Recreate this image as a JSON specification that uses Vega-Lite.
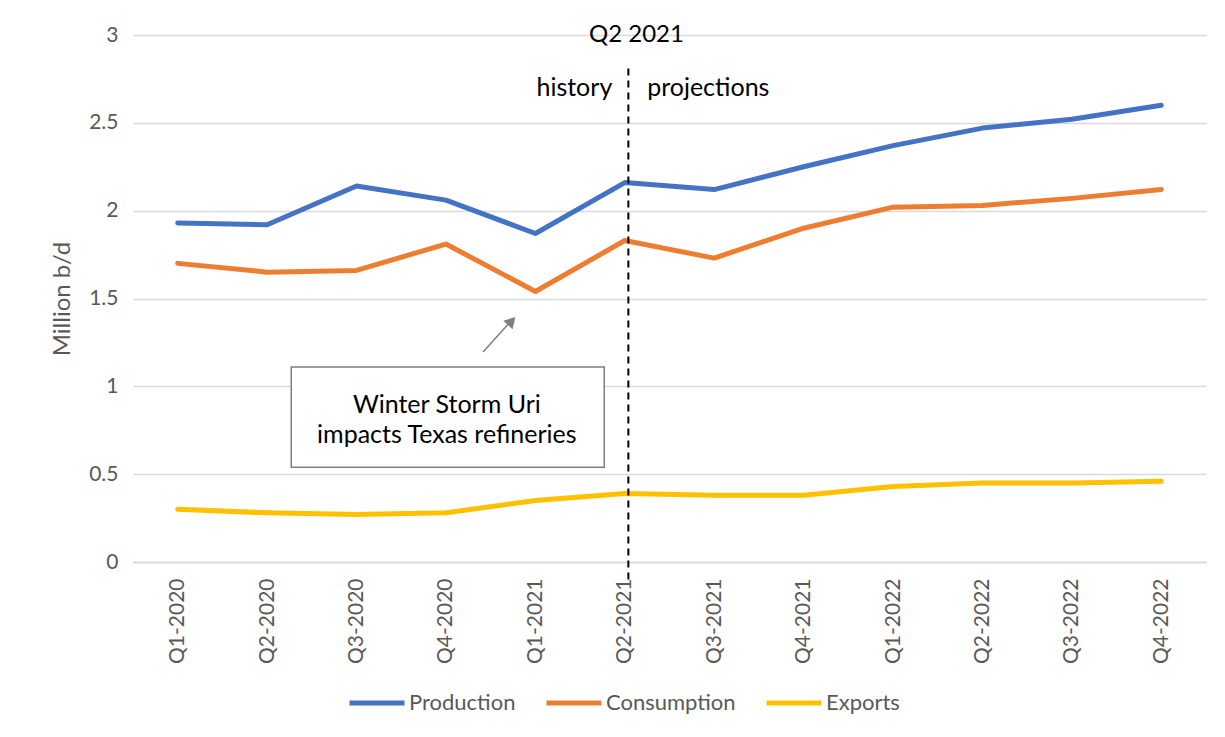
{
  "$schema": "https://vega.github.io/schema/vega-lite/v6.json",
  "width": 1073,
  "height": 527,
  "autosize": "none",
  "padding": {"left": 133, "top": 35, "right": 19, "bottom": 175},
  "background": "white",
  "config": {
    "font": "Lato",
    "view": {"stroke": null},
    "axis": {"labelFont": "Lato", "titleFont": "Lato", "labelColor": "#595959", "titleColor": "#595959", "titleFontWeight": "normal"},
    "legend": {"labelFont": "Lato"}
  },
  "datasets": {
    "series": [
      {"q": "Q1-2020", "series": "Production", "v": 1.93},
      {"q": "Q2-2020", "series": "Production", "v": 1.92},
      {"q": "Q3-2020", "series": "Production", "v": 2.14},
      {"q": "Q4-2020", "series": "Production", "v": 2.06},
      {"q": "Q1-2021", "series": "Production", "v": 1.87},
      {"q": "Q2-2021", "series": "Production", "v": 2.16},
      {"q": "Q3-2021", "series": "Production", "v": 2.12},
      {"q": "Q4-2021", "series": "Production", "v": 2.25},
      {"q": "Q1-2022", "series": "Production", "v": 2.37},
      {"q": "Q2-2022", "series": "Production", "v": 2.47},
      {"q": "Q3-2022", "series": "Production", "v": 2.52},
      {"q": "Q4-2022", "series": "Production", "v": 2.60},
      {"q": "Q1-2020", "series": "Consumption", "v": 1.70},
      {"q": "Q2-2020", "series": "Consumption", "v": 1.65},
      {"q": "Q3-2020", "series": "Consumption", "v": 1.66},
      {"q": "Q4-2020", "series": "Consumption", "v": 1.81},
      {"q": "Q1-2021", "series": "Consumption", "v": 1.54},
      {"q": "Q2-2021", "series": "Consumption", "v": 1.83},
      {"q": "Q3-2021", "series": "Consumption", "v": 1.73},
      {"q": "Q4-2021", "series": "Consumption", "v": 1.90},
      {"q": "Q1-2022", "series": "Consumption", "v": 2.02},
      {"q": "Q2-2022", "series": "Consumption", "v": 2.03},
      {"q": "Q3-2022", "series": "Consumption", "v": 2.07},
      {"q": "Q4-2022", "series": "Consumption", "v": 2.12},
      {"q": "Q1-2020", "series": "Exports", "v": 0.30},
      {"q": "Q2-2020", "series": "Exports", "v": 0.28},
      {"q": "Q3-2020", "series": "Exports", "v": 0.27},
      {"q": "Q4-2020", "series": "Exports", "v": 0.28},
      {"q": "Q1-2021", "series": "Exports", "v": 0.35},
      {"q": "Q2-2021", "series": "Exports", "v": 0.39},
      {"q": "Q3-2021", "series": "Exports", "v": 0.38},
      {"q": "Q4-2021", "series": "Exports", "v": 0.38},
      {"q": "Q1-2022", "series": "Exports", "v": 0.43},
      {"q": "Q2-2022", "series": "Exports", "v": 0.45},
      {"q": "Q3-2022", "series": "Exports", "v": 0.45},
      {"q": "Q4-2022", "series": "Exports", "v": 0.46}
    ]
  },
  "resolve": {"scale": {"x": "independent"}, "axis": {"x": "independent"}},
  "layer": [
    {
      "data": {"name": "series"},
      "mark": {"type": "line", "strokeWidth": 5, "strokeJoin": "round", "strokeCap": "round"},
      "encoding": {
        "x": {
          "field": "q", "type": "ordinal", "sort": null,
          "scale": {"type": "point", "padding": 0.5},
          "axis": {"title": null, "labelAngle": -90, "labelFontSize": 21, "labelPadding": 16, "ticks": false, "domain": true, "domainColor": "#d9d9d9", "domainWidth": 1.3, "grid": false}
        },
        "y": {
          "field": "v", "type": "quantitative",
          "scale": {"domain": [0, 3]},
          "axis": {"title": "Million b/d", "titleFontSize": 24, "titlePadding": 14, "values": [0, 0.5, 1, 1.5, 2, 2.5, 3], "labelExpr": "'' + datum.value", "labelFontSize": 21, "labelPadding": 15, "ticks": false, "domain": false, "gridColor": "#d9d9d9", "gridWidth": 1.3}
        },
        "color": {
          "field": "series", "type": "nominal",
          "scale": {"domain": ["Production", "Consumption", "Exports"], "range": ["#4472C4", "#ED7D31", "#FFC000"]},
          "legend": {"title": null, "orient": "none", "legendX": 214, "legendY": 638, "direction": "horizontal", "symbolType": "stroke", "symbolStrokeWidth": 5, "symbolSize": 3025, "labelFontSize": 22, "labelColor": "#595959", "labelOffset": 2, "columnPadding": 20, "padding": 0}
        }
      }
    },
    {
      "data": {"values": [{"x": 5.04, "y": 2.81, "y2": -0.1}]},
      "mark": {"type": "rule", "color": "black", "strokeWidth": 2, "strokeDash": [7, 5]},
      "encoding": {
        "x": {"field": "x", "type": "quantitative", "scale": {"domain": [-0.5, 11.5], "nice": false, "zero": false}, "axis": null},
        "y": {"field": "y", "type": "quantitative"},
        "y2": {"field": "y2"}
      }
    },
    {
      "data": {"values": [{"x1": 1.27, "x2": 4.77, "y1": 1.11, "y2": 0.54}]},
      "mark": {"type": "rect", "fill": "white", "stroke": "#7f7f7f", "strokeWidth": 1.5},
      "encoding": {
        "x": {"field": "x1", "type": "quantitative", "scale": {"domain": [-0.5, 11.5], "nice": false, "zero": false}, "axis": null},
        "x2": {"field": "x2"},
        "y": {"field": "y1", "type": "quantitative"},
        "y2": {"field": "y2"}
      }
    },
    {
      "data": {"values": [{"x": 3.415, "y": 1.195, "x2": 3.69, "y2": 1.35}]},
      "mark": {"type": "rule", "color": "#7f7f7f", "strokeWidth": 1.5},
      "encoding": {
        "x": {"field": "x", "type": "quantitative", "scale": {"domain": [-0.5, 11.5], "nice": false, "zero": false}, "axis": null},
        "x2": {"field": "x2"},
        "y": {"field": "y", "type": "quantitative"},
        "y2": {"field": "y2"}
      }
    },
    {
      "data": {"values": [{"x": 3.735, "y": 1.372}]},
      "mark": {"type": "point", "shape": "triangle-up", "filled": true, "color": "#7f7f7f", "size": 160, "angle": 43, "opacity": 1},
      "encoding": {
        "x": {"field": "x", "type": "quantitative", "scale": {"domain": [-0.5, 11.5], "nice": false, "zero": false}, "axis": null},
        "y": {"field": "y", "type": "quantitative"}
      }
    },
    {
      "data": {"values": [
        {"x": 3.01, "y": 0.894, "t": "Winter Storm Uri"},
        {"x": 3.01, "y": 0.723, "t": "impacts Texas refineries"}
      ]},
      "mark": {"type": "text", "fontSize": 25, "color": "black", "align": "center", "baseline": "middle"},
      "encoding": {
        "x": {"field": "x", "type": "quantitative", "scale": {"domain": [-0.5, 11.5], "nice": false, "zero": false}, "axis": null},
        "y": {"field": "y", "type": "quantitative"},
        "text": {"field": "t"}
      }
    },
    {
      "data": {"values": [{"x": 5.13, "y": 3.0, "t": "Q2 2021"}]},
      "mark": {"type": "text", "fontSize": 24, "color": "black", "align": "center", "baseline": "middle"},
      "encoding": {
        "x": {"field": "x", "type": "quantitative", "scale": {"domain": [-0.5, 11.5], "nice": false, "zero": false}, "axis": null},
        "y": {"field": "y", "type": "quantitative"},
        "text": {"field": "t"}
      }
    },
    {
      "data": {"values": [{"x": 4.86, "y": 2.70, "t": "history"}]},
      "mark": {"type": "text", "fontSize": 25, "color": "black", "align": "right", "baseline": "middle"},
      "encoding": {
        "x": {"field": "x", "type": "quantitative", "scale": {"domain": [-0.5, 11.5], "nice": false, "zero": false}, "axis": null},
        "y": {"field": "y", "type": "quantitative"},
        "text": {"field": "t"}
      }
    },
    {
      "data": {"values": [{"x": 5.25, "y": 2.70, "t": "projections"}]},
      "mark": {"type": "text", "fontSize": 25, "color": "black", "align": "left", "baseline": "middle"},
      "encoding": {
        "x": {"field": "x", "type": "quantitative", "scale": {"domain": [-0.5, 11.5], "nice": false, "zero": false}, "axis": null},
        "y": {"field": "y", "type": "quantitative"},
        "text": {"field": "t"}
      }
    }
  ]
}
